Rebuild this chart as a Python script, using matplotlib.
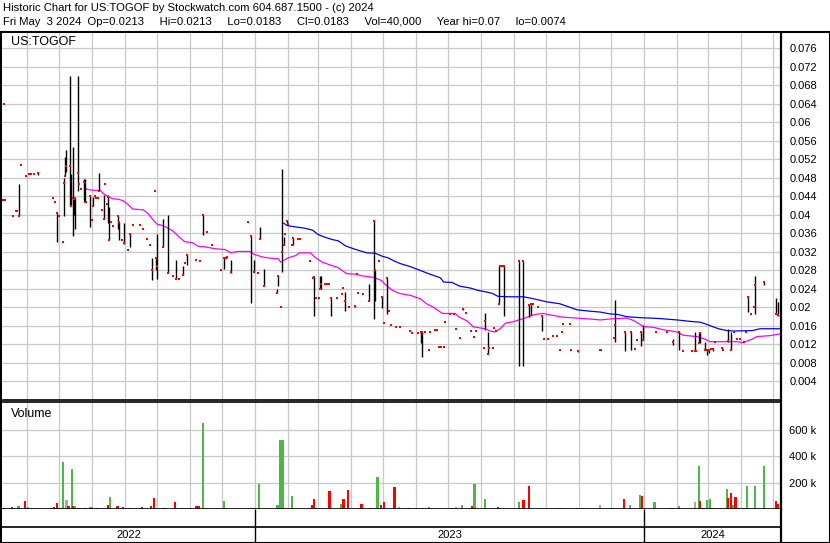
import numpy as np
import matplotlib
matplotlib.use("Agg")
import matplotlib.pyplot as plt
from matplotlib.ticker import FixedLocator, FuncFormatter

plt.rcParams['font.family'] = ['Liberation Sans', 'DejaVu Sans']

START = np.datetime64('2022-05-01')   # day 0 of the day offsets below

# days with a high/low range: day offset, high, low, close
rng_day = [23, 41, 59, 66, 67, 68, 71, 72, 74, 75, 76, 79, 84, 85, 90, 93, 99, 103, 107, 108,
           116, 117, 122, 128, 148, 152, 153, 159, 163, 171, 177, 181, 196, 216, 222, 241, 244, 250, 253, 266,
           267, 270, 272, 275, 281, 299, 300, 306, 307, 316, 329, 339, 352, 357, 358, 364, 369, 401, 402, 440,
           461, 464, 474, 479, 493, 497, 502, 504, 514, 548, 583, 592, 598, 607, 609, 637, 643, 658, 662, 663,
           667, 669, 671, 675, 683, 689, 692, 708, 714, 723, 734, 736]
rng_hi = [.0467, .0492, .0405, .048, .0525, .054, .070, .0489, .0547, .0437, .0437, .070, .0478, .0478, .044, .0439, .049, .0443, .0443, .0417,
          .0397, .0385, .0383, .036, .0307, .0307, .0359, .0392, .040, .0303, .029, .0316, .040, .0307, .0302, .0356, .0302, .0374, .0282, .024,
          .0269, .050, .0353, .0388, .0349, .0269, .0265, .0269, .0267, .022, .0234, .0206, .0251, .0388, .0281, .0224, .0263, .0148, .0148, .0199,
          .0187, .0148, .029, .029, .0301, .0301, .0206, .0208, .0182, .0107, .0217, .0146, .0147, .0148, .0161, .0132, .0149, .0147, .0147, .0147,
          .0125, .0107, .011, .0113, .0115, .0154, .0147, .0224, .0267, .0256, .0221, .0212]
rng_lo = [.0398, .0487, .0342, .0398, .0483, .0493, .0419, .042, .0355, .0399, .0369, .0451, .0427, .0427, .0373, .0419, .0451, .0392, .0382, .0345,
          .0369, .0345, .0338, .0331, .0259, .028, .0261, .033, .0275, .0261, .027, .0292, .0356, .0284, .0275, .021, .0276, .0348, .0246, .0231,
          .0246, .0277, .0334, .0383, .0334, .0264, .0181, .024, .024, .0181, .0192, .0201, .0213, .0174, .0214, .0198, .0185, .0123, .0093, .0194,
          .0151, .0099, .0208, .0181, .0073, .0073, .0179, .0184, .0149, .0104, .0125, .0105, .0107, .0116, .0129, .0119, .0107, .0106, .0123, .0123,
          .0107, .0098, .0101, .0106, .011, .0125, .0109, .019, .0186, .0248, .0185, .0181]
rng_cl = [.0398, .049, .0405, .0469, .0483, .0505, .0505, .042, .0436, .0434, .0436, .049, .047, .0427, .044, .0419, .0451, .0392, .0439, .0345,
          .0397, .0385, .0339, .0358, .028, .0307, .029, .033, .0275, .0261, .027, .0314, .0399, .0307, .0276, .0354, .0276, .0348, .0246, .0231,
          .0267, .032, .0334, .0387, .0349, .0264, .0265, .024, .025, .022, .0213, .0203, .0213, .0387, .0281, .0222, .0263, .0148, .0148, .0197,
          .0171, .0099, .0208, .029, .0301, .030, .0206, .0208, .0181, .0106, .0161, .0146, .0147, .0148, .0129, .0126, .0147, .0106, .0123, .0145,
          .0107, .0107, .0108, .0111, .0113, .0127, .0109, .0222, .0248, .0255, .0185, .0183]

# days with a single trade price
one_day = [8, 9, 10, 18, 21, 22, 25, 30, 33, 35, 38, 55, 57, 61, 65, 80, 82, 86, 92, 95,
           96, 98, 101, 104, 106, 110, 112, 120, 126, 130, 137, 140, 144, 146, 151, 168, 174, 179, 190, 193,
           200, 205, 213, 218, 219, 238, 248, 269, 273, 276, 280, 285, 287, 297, 302, 305, 311, 313, 314, 322,
           327, 328, 333, 341, 342, 346, 361, 366, 371, 373, 377, 381, 390, 392, 398, 405, 408, 409, 414, 416,
           418, 420, 422, 423, 428, 432, 434, 437, 443, 448, 451, 452, 460, 465, 468, 469, 471, 475, 477, 506,
           511, 516, 520, 525, 528, 531, 533, 534, 541, 542, 569, 570, 582, 602, 604, 621, 632, 647, 655, 659,
           670, 673, 677, 684, 695, 697, 700, 704, 706, 711, 713]
one_px = [.0433, .0639, .0433, .0398, .0409, .0409, .0508, .0484, .0489, .0489, .0489, .0436, .0427, .0398, .0341, .0466, .0455, .0427, .0389, .044,
          .0437, .0436, .041, .0466, .0424, .0385, .0375, .0345, .0325, .0378, .0379, .037, .0348, .0334, .0451, .0269, .0261, .0295, .0303, .030,
          .0363, .0334, .0281, .0307, .0309, .0384, .0274, .020, .0358, .038, .0334, .0347, .0347, .030, .022, .022, .025, .025, .025, .022,
          .023, .0242, .020, .0273, .0232, .0228, .030, .0166, .0193, .0162, .0158, .0158, .0149, .0145, .0145, .0148, .0107, .0148, .0151, .0151,
          .0114, .0114, .0114, .0168, .0185, .0185, .0153, .0135, .0188, .0149, .0136, .0149, .0112, .0112, .0112, .0156, .015, .029, .029, .0208,
          .0201, .0131, .0131, .0138, .0138, .0109, .0148, .0164, .0164, .0109, .0107, .0107, .0134, .0111, .0129, .0147, .0147, .0106, .0106, .0106,
          .0106, .011, .0125, .0108, .0147, .0132, .0131, .0125, .0147, .0185, .020]

# moving averages
ma_short_day = [85, 90, 95, 100, 102, 106, 111, 116, 121, 126, 130, 134, 140, 145, 149, 153, 158, 162, 168, 173,
                179, 186, 192, 198, 207, 217, 222, 229, 240, 245, 252, 261, 267, 269, 276, 283, 287, 297, 301, 308,
                314, 323, 331, 339, 346, 356, 364, 367, 374, 381, 391, 400, 406, 412, 419, 421, 433, 436, 444, 450,
                461, 466, 470, 475, 480, 487, 497, 503, 508, 515, 522, 534, 547, 559, 569, 578, 594, 600, 606, 609,
                619, 628, 641, 647, 660, 667, 672, 684, 697, 703, 712, 716, 728, 736, 739]
ma_short = [.0457, .0454, .0453, .0453, .0447, .0441, .0435, .0434, .0431, .0422, .0413, .0412, .0411, .0402, .039, .038, .0377, .0373, .0365, .0354,
            .0342, .034, .0332, .0331, .0327, .0325, .0318, .0321, .0321, .0314, .0309, .0306, .0305, .0298, .0307, .0312, .0318, .0318, .0309, .0298,
            .0293, .0286, .0273, .0272, .0268, .0265, .0258, .025, .0237, .023, .0226, .0219, .0208, .0201, .019, .0187, .0187, .018, .0171, .0158,
            .0154, .0149, .0147, .0154, .0166, .0169, .0176, .0181, .0185, .0187, .0184, .0179, .0177, .0175, .0173, .0175, .0177, .0172, .0164, .0159,
            .0157, .0152, .0147, .014, .0137, .0132, .0126, .0126, .0126, .0124, .0132, .0137, .0139, .0142, .0144]
ma_long_day = [272, 275, 283, 292, 299, 304, 309, 317, 323, 330, 336, 344, 350, 358, 364, 370, 376, 381, 391, 400,
               409, 419, 422, 430, 437, 447, 454, 463, 468, 473, 484, 497, 506, 519, 531, 541, 547, 559, 569, 578,
               585, 594, 606, 625, 641, 653, 663, 667, 674, 680, 688, 694, 712, 719, 739]
ma_long = [.0382, .0377, .0374, .0371, .0367, .0358, .0353, .0347, .0344, .0333, .0328, .0322, .0318, .0317, .0311, .0307, .030, .0295, .0288, .028,
           .0272, .0264, .0255, .0254, .0246, .0242, .0237, .0233, .023, .0224, .0223, .0223, .0219, .0212, .0208, .020, .0195, .0192, .019, .0186,
           .0185, .018, .0178, .0176, .0173, .017, .0168, .0165, .0159, .0154, .015, .0149, .015, .0154, .0154]

# volume: day offset, shares (thousands), u = up, d = down, n = unchanged
vol_day = [9, 17, 20, 23, 29, 32, 35, 40, 54, 56, 59, 60, 65, 68, 70, 73, 74, 76, 79, 81,
           85, 90, 92, 97, 107, 109, 116, 121, 128, 139, 147, 150, 159, 170, 177, 183, 190, 192, 196, 199,
           216, 239, 244, 249, 266, 269, 271, 274, 280, 297, 299, 300, 302, 315, 326, 328, 332, 345, 353, 360,
           363, 366, 376, 380, 389, 403, 408, 430, 434, 439, 449, 451, 461, 473, 478, 493, 497, 502, 504, 530,
           532, 547, 569, 581, 591, 597, 606, 608, 620, 636, 643, 654, 658, 662, 663, 666, 669, 672, 674, 677,
           688, 689, 692, 694, 696, 699, 704, 707, 714, 723, 734, 736]
vol_k = [8, 15, 5, 23, 61, 15, 5, 8, 5, 15, 46, 8, 359, 69, 23, 306, 23, 23, 8, 8,
         8, 15, 15, 5, 31, 92, 23, 15, 5, 15, 23, 84, 5, 54, 5, 5, 23, 23, 657, 5,
         61, 5, 5, 191, 31, 522, 522, 8, 99, 8, 31, 76, 8, 138, 38, 76, 145, 38, 8, 245,
         31, 54, 168, 15, 5, 8, 15, 5, 15, 31, 23, 191, 76, 15, 8, 54, 69, 176, 8, 8,
         8, 5, 31, 5, 76, 31, 107, 99, 54, 5, 23, 8, 54, 329, 61, 8, 69, 76, 8, 5,
         153, 84, 122, 31, 92, 5, 5, 176, 176, 324, 61, 40]
vol_dir = ['d', 'd', 'u', 'u', 'd', 'u', 'n', 'u', 'd', 'd', 'd', 'd', 'u', 'n', 'd', 'u', 'd', 'u', 'u', 'd',
           'd', 'u', 'u', 'd', 'd', 'u', 'd', 'd', 'u', 'd', 'd', 'd', 'd', 'd', 'u', 'u', 'd', 'd', 'u', 'd',
           'u', 'u', 'd', 'u', 'u', 'u', 'u', 'u', 'u', 'd', 'd', 'd', 'd', 'd', 'u', 'd', 'd', 'd', 'd', 'u',
           'd', 'd', 'd', 'n', 'd', 'u', 'u', 'd', 'n', 'u', 'd', 'u', 'u', 'd', 'n', 'u', 'd', 'd', 'u', 'u',
           'u', 'd', 'n', 'u', 'd', 'u', 'u', 'd', 'u', 'd', 'u', 'n', 'n', 'u', 'd', 'd', 'u', 'u', 'u', 'u',
           'u', 'd', 'd', 'u', 'd', 'd', 'd', 'u', 'u', 'u', 'd', 'd']

price_ticks = [round(0.004 * i, 3) for i in range(1, 20)]
vol_ticks = [200000, 400000, 600000]
years = ['2022', '2023', '2024']

header1 = 'Historic Chart for US:TOGOF by Stockwatch.com 604.687.1500 - (c) 2024'
header2 = ('Fri May  3 2024  Op=0.0213     Hi=0.0213     Lo=0.0183     Cl=0.0183     '
           'Vol=40,000     Year hi=0.07     lo=0.0074')

vol_colors = {'u': '#4cb944', 'd': '#ff0000', 'n': '#a8a8a8'}
GRID = '#c8c8c8'

W, H = 830, 543
fig = plt.figure(figsize=(W / 100, H / 100), dpi=100)


def box(x0, y0, x1, y1):
    # pixel box (top-left origin) -> figure rect
    return [x0 / W, 1 - y1 / H, (x1 - x0) / W, (y1 - y0) / H]


months = np.arange(np.datetime64('2022-06'), np.datetime64('2024-06'), dtype='datetime64[M]')
month_days = (months.astype('datetime64[D]') - START).astype(int)
year_starts = (np.array(['2023-01-01', '2024-01-01'], dtype='datetime64[D]') - START).astype(int)
xlim = (7.5, 738.7)

# outer frame
frame = fig.add_axes(box(0.5, 32, 829.5, 542.5))
frame.set_xticks([])
frame.set_yticks([])
for s in frame.spines.values():
    s.set_linewidth(1.5)

# price panel
ax = fig.add_axes(box(2, 33, 781, 400))
ax.set_xlim(*xlim)
ax.set_ylim(0, 0.0793)
ax.set_axisbelow(True)
ax.xaxis.set_major_locator(FixedLocator(month_days))
ax.yaxis.set_major_locator(FixedLocator(price_ticks))
ax.yaxis.set_major_formatter(FuncFormatter(lambda v, p: f'{v:g}'))
ax.yaxis.tick_right()
ax.tick_params(axis='y', length=0, pad=6, labelsize=8)
ax.tick_params(axis='x', length=0, labelbottom=False)
ax.grid(True, color=GRID, lw=0.9)
for s in ['left', 'top']:
    ax.spines[s].set_visible(False)
ax.spines['right'].set_linewidth(1.6)
ax.spines['bottom'].set_linewidth(1.2)

ax.plot(ma_short_day, ma_short, color='#ff00ff', lw=0.9, zorder=2)
ax.plot(ma_long_day, ma_long, color='#0000ff', lw=0.9, zorder=2)
ax.vlines(rng_day, rng_lo, rng_hi, color='black', lw=1.0, zorder=3)
ax.plot(rng_day, rng_cl, 's', color='red', ms=2.1, mew=0, zorder=4)
ax.plot(one_day, one_px, 's', color='red', ms=2.1, mew=0, zorder=4)
ax.text(9 / 779, 0.976, 'US:TOGOF', transform=ax.transAxes, fontsize=9, va='center', ha='left')

# volume panel
vax = fig.add_axes(box(2, 402, 781, 509))
vax.set_xlim(*xlim)
vax.set_ylim(0, 815000)
vax.set_axisbelow(True)
vax.xaxis.set_major_locator(FixedLocator(month_days))
vax.yaxis.set_major_locator(FixedLocator(vol_ticks))
vax.yaxis.set_major_formatter(FuncFormatter(lambda v, p: f'{int(v / 1000)} k'))
vax.yaxis.tick_right()
vax.tick_params(axis='y', length=0, pad=6, labelsize=8)
vax.tick_params(axis='x', length=0, labelbottom=False)
vax.grid(True, color=GRID, lw=0.9)
vax.spines['left'].set_visible(False)
vax.spines['right'].set_linewidth(1.6)
vax.spines['top'].set_linewidth(1.2)
vax.spines['bottom'].set_linewidth(1.2)
vax.bar(vol_day, np.array(vol_k) * 1000, width=2.1, lw=0,
        color=[vol_colors[c] for c in vol_dir], zorder=2)
vax.text(9 / 779, 0.89, 'Volume', transform=vax.transAxes, fontsize=9, va='center', ha='left')

# date strips
dax = fig.add_axes(box(2, 509, 781, 542))
dax.set_xlim(*xlim)
dax.set_ylim(0, 1)
dax.set_xticks([])
dax.set_yticks([])
dax.spines['left'].set_visible(False)
dax.spines['top'].set_visible(False)
dax.spines['right'].set_linewidth(1.6)
dax.axhline(15 / 33, color='black', lw=1.2)
dax.vlines(year_starts, 0, 1, color='black', lw=1.0)
edges = [xlim[0]] + list(year_starts) + [xlim[1]]
for i, y in enumerate(years):
    dax.text((edges[i] + edges[i + 1]) / 2, 7 / 33, y, fontsize=8, ha='center', va='center')

fig.text(3 / W, 1 - 8 / H, header1, fontsize=8.1, va='center', ha='left')
fig.text(3 / W, 1 - 22 / H, header2, fontsize=8.1, va='center', ha='left')

fig.savefig('out.png', dpi=100)
